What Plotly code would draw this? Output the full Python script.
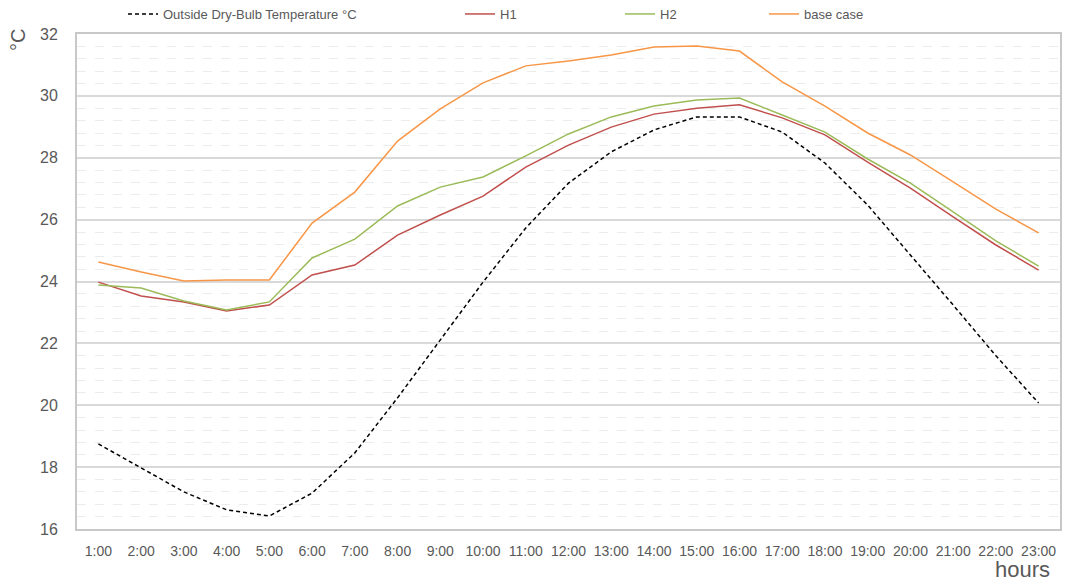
import plotly.graph_objects as go

hours = [f"{h}:00" for h in range(1, 24)]

outside = [18.75, 17.97, 17.20, 16.62, 16.42, 17.16, 18.46, 20.24, 22.11, 23.98, 25.73, 27.18,
           28.19, 28.90, 29.32, 29.32, 28.83, 27.83, 26.47, 24.86, 23.24, 21.60, 20.07]
h1 = [23.98, 23.53, 23.34, 23.05, 23.24, 24.21, 24.53, 25.50, 26.15, 26.76, 27.70, 28.41,
      28.99, 29.41, 29.60, 29.71, 29.29, 28.74, 27.86, 27.02, 26.09, 25.18, 24.37]
h2 = [23.89, 23.79, 23.37, 23.08, 23.34, 24.76, 25.37, 26.44, 27.05, 27.38, 28.06, 28.77,
      29.32, 29.67, 29.87, 29.93, 29.38, 28.83, 27.96, 27.18, 26.25, 25.31, 24.50]
base = [24.63, 24.31, 24.02, 24.05, 24.05, 25.89, 26.89, 28.54, 29.58, 30.42, 30.97, 31.13,
        31.32, 31.58, 31.61, 31.45, 30.45, 29.67, 28.80, 28.09, 27.22, 26.34, 25.57]

series_names = ["Outside Dry-Bulb Temperature °C", "H1", "H2", "base case"]
y_ticks = [16, 18, 20, 22, 24, 26, 28, 30, 32]

FONT = "Liberation Sans, Arial, sans-serif"
TXT = "#595959"

L, R, T, B = 77, 5, 34, 52
W, H = 1065, 581
PW = W - L - R
PH = H - T - B

fig = go.Figure()
styles = [
    dict(color="black", width=1.5, dash="4px,3px"),
    dict(color="#c0504d", width=1.5),
    dict(color="#9bbb59", width=1.5),
    dict(color="#f79646", width=1.5),
]
data = [outside, h1, h2, base]
legends = ["legend", "legend2", "legend3", "legend4"]
for name, ys, st, lg in zip(series_names, data, styles, legends):
    fig.add_trace(go.Scatter(x=hours, y=ys, mode="lines", name=name, line=st,
                             legend=lg, showlegend=True))

# legend text start positions (px)
text_starts = [163, 500, 660, 804]
leg_layout = {}
for lg, ts in zip(legends, text_starts):
    leg_layout[lg] = dict(orientation="h", xref="container", yref="container",
                          x=(ts - 40) / W, y=1 - 14 / H, xanchor="left", yanchor="middle",
                          font=dict(family=FONT, size=13, color=TXT),
                          bgcolor="rgba(0,0,0,0)", borderwidth=0)

fig.update_layout(
    width=W, height=H,
    margin=dict(l=L, r=R, t=T, b=B, autoexpand=False),
    paper_bgcolor="white", plot_bgcolor="white",
    font=dict(family=FONT, color=TXT),
    **leg_layout,
)

fig.update_xaxes(
    type="category", range=[-0.5, 22.5],
    showgrid=False, showline=True, mirror=True, linecolor="#c8c8c8", linewidth=2,
    ticks="", tickfont=dict(family=FONT, size=14, color=TXT), ticklabelstandoff=8,
    zeroline=False,
)
fig.update_yaxes(
    range=[16, 32], tickvals=y_ticks, ticktext=[str(v) for v in y_ticks],
    showgrid=True, gridcolor="#d9d9d9", gridwidth=2,
    minor=dict(dtick=0.4, tick0=16, showgrid=True, gridcolor="#ececec", griddash="dash", gridwidth=1),
    showline=True, mirror=True, linecolor="#c8c8c8", linewidth=2,
    ticks="", tickfont=dict(family=FONT, size=16, color=TXT), ticklabelstandoff=14,
    zeroline=False,
)

fig.add_annotation(text="°C", xref="paper", yref="paper", x=(18 - L) / PW, y=1 + (T - 40) / PH,
                   textangle=-90, showarrow=False, font=dict(family=FONT, size=20, color=TXT),
                   xanchor="center", yanchor="middle")
fig.add_annotation(text="hours", xref="paper", yref="paper", x=(1052 - L) / PW, y=-(569 - (H - B)) / PH,
                   showarrow=False, font=dict(family=FONT, size=22, color=TXT),
                   xanchor="right", yanchor="middle")

fig.write_html("out.html")
